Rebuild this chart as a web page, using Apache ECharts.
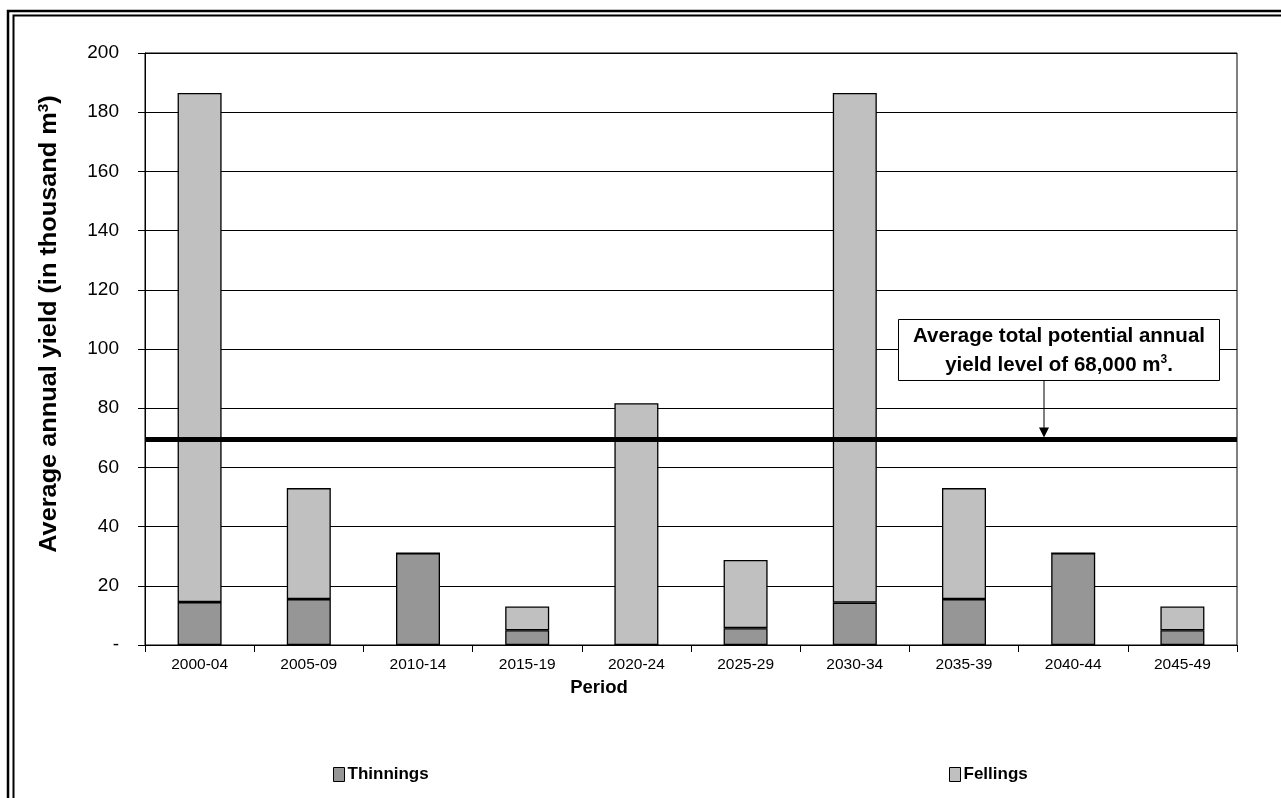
<!DOCTYPE html>
<html>
<head>
<meta charset="utf-8">
<script src="https://cdn.jsdelivr.net/npm/echarts@6/dist/echarts.min.js"></script>
<style>html,body{margin:0;padding:0;background:#fff;}#c{width:1281px;height:798px;}</style>
</head>
<body>
<div id="c"></div>
<script>
const categories = ['2000-04','2005-09','2010-14','2015-19','2020-24','2025-29','2030-34','2035-39','2040-44','2045-49'];
const thinnings = [14.5, 15.5, 31, 5, 0, 5.7, 14.3, 15.5, 31, 5];
const fellings = [172, 37.5, 0, 8, 81.7, 23, 172.2, 37.5, 0, 8];
const averageLevel = 69.4;
const yTicks = [0, 20, 40, 60, 80, 100, 120, 140, 160, 180, 200];

const FONT = '"Liberation Sans", Arial, sans-serif';
const chart = echarts.init(document.getElementById('c'), null, {renderer: 'canvas'});

const legendText = {fontFamily: FONT, fontSize: 17, fontWeight: 'bold', color: '#000', padding: [0,0,0,-2]};
const option = {
  backgroundColor: '#fff',
  animation: false,
  textStyle: {fontFamily: FONT},
  grid: {left: 145, right: 44, top: 53, bottom: 153, show: true, borderColor: '#000', borderWidth: 1, backgroundColor: '#fff'},
  legend: [
    {data: [{name: 'Thinnings', icon: 'rect'}], left: 333, top: 766, padding: 0, itemWidth: 11, itemHeight: 14, itemGap: 4,
     textStyle: legendText, itemStyle: {borderColor: '#000', borderWidth: 1}},
    {data: [{name: 'Fellings', icon: 'rect'}], left: 949, top: 766, padding: 0, itemWidth: 11, itemHeight: 14, itemGap: 4,
     textStyle: legendText, itemStyle: {borderColor: '#000', borderWidth: 1}}
  ],
  xAxis: {
    type: 'category',
    data: categories,
    axisLine: {lineStyle: {color: '#000', width: 1}},
    axisTick: {show: true, interval: 0, length: 7, lineStyle: {color: '#000'}},
    axisLabel: {fontFamily: FONT, fontSize: 15.5, color: '#000', margin: 12, interval: 0},
    splitLine: {show: false}
  },
  yAxis: {
    type: 'value',
    min: 0, max: 200, interval: 20,
    axisLine: {show: true, lineStyle: {color: '#000', width: 1}},
    axisTick: {show: true, length: 7, lineStyle: {color: '#000'}},
    axisLabel: {fontFamily: FONT, fontSize: 19, color: '#000', margin: 26,
      formatter: function (v) { return yTicks.indexOf(v) === 0 ? '-' : String(v); }},
    splitLine: {show: true, lineStyle: {color: '#000', width: 1}}
  },
  series: [
    {name: 'Thinnings', type: 'bar', stack: 'yield', data: thinnings, barWidth: 44,
     itemStyle: {color: '#969696', borderColor: '#000', borderWidth: 1.3},
     markLine: {silent: true, symbol: ['none', 'none'], label: {show: false},
       lineStyle: {color: '#000', width: 5, type: 'solid'},
       data: [{yAxis: averageLevel}]}},
    {name: 'Fellings', type: 'bar', stack: 'yield', data: fellings, barWidth: 44,
     itemStyle: {color: '#c0c0c0', borderColor: '#000', borderWidth: 1.3}}
  ]
};
chart.setOption(option);

const lineY = chart.convertToPixel({yAxisIndex: 0}, averageLevel);
const arrowX = 1044;
chart.setOption({
  graphic: [
    {type: 'rect', shape: {x: 8, y: 11, width: 1400, height: 1000}, style: {fill: 'none', stroke: '#000', lineWidth: 2.5}, silent: true},
    {type: 'rect', shape: {x: 13.5, y: 15.5, width: 1400, height: 1000}, style: {fill: 'none', stroke: '#000', lineWidth: 2}, silent: true},
    {type: 'text', x: 49, y: 324, rotation: Math.PI / 2, scaleX: 1.1,
     style: {text: '{b|Average annual yield (in thousand m}{s|3}{b|)}', align: 'center', verticalAlign: 'middle',
       rich: {b: {fontFamily: FONT, fontSize: 23, fontWeight: 'bold', fill: '#000', verticalAlign: 'bottom'},
              s: {fontFamily: FONT, fontSize: 14, fontWeight: 'bold', fill: '#000', verticalAlign: 'top', padding: [0, 0, 10, 0]}}}},
    {type: 'text', x: 599, y: 688,
     style: {text: 'Period', align: 'center', verticalAlign: 'middle', fontFamily: FONT, fontSize: 18.5, fontWeight: 'bold', fill: '#000'}},
    {type: 'line', shape: {x1: arrowX, y1: 380, x2: arrowX, y2: lineY - 10}, style: {stroke: '#000', lineWidth: 1}, z: 100},
    {type: 'polygon', shape: {points: [[arrowX - 5, lineY - 12], [arrowX + 5, lineY - 12], [arrowX, lineY - 2]]}, style: {fill: '#000'}, z: 100},
    {type: 'rect', shape: {x: 898.5, y: 319.5, width: 321, height: 61}, style: {fill: '#fff', stroke: '#000', lineWidth: 1}, z: 100},
    {type: 'text', x: 1059, y: 351, z: 101,
     style: {text: '{b|Average total potential annual}\n{b|yield level of 68,000 m}{s|3}{b|.}', align: 'center', verticalAlign: 'middle',
       lineHeight: 29,
       rich: {b: {fontFamily: FONT, fontSize: 20.5, fontWeight: 'bold', fill: '#000', lineHeight: 29},
              s: {fontFamily: FONT, fontSize: 12, fontWeight: 'bold', fill: '#000', lineHeight: 29, padding: [0, 0, 12, 0]}}}}
  ]
});
</script>
</body>
</html>
